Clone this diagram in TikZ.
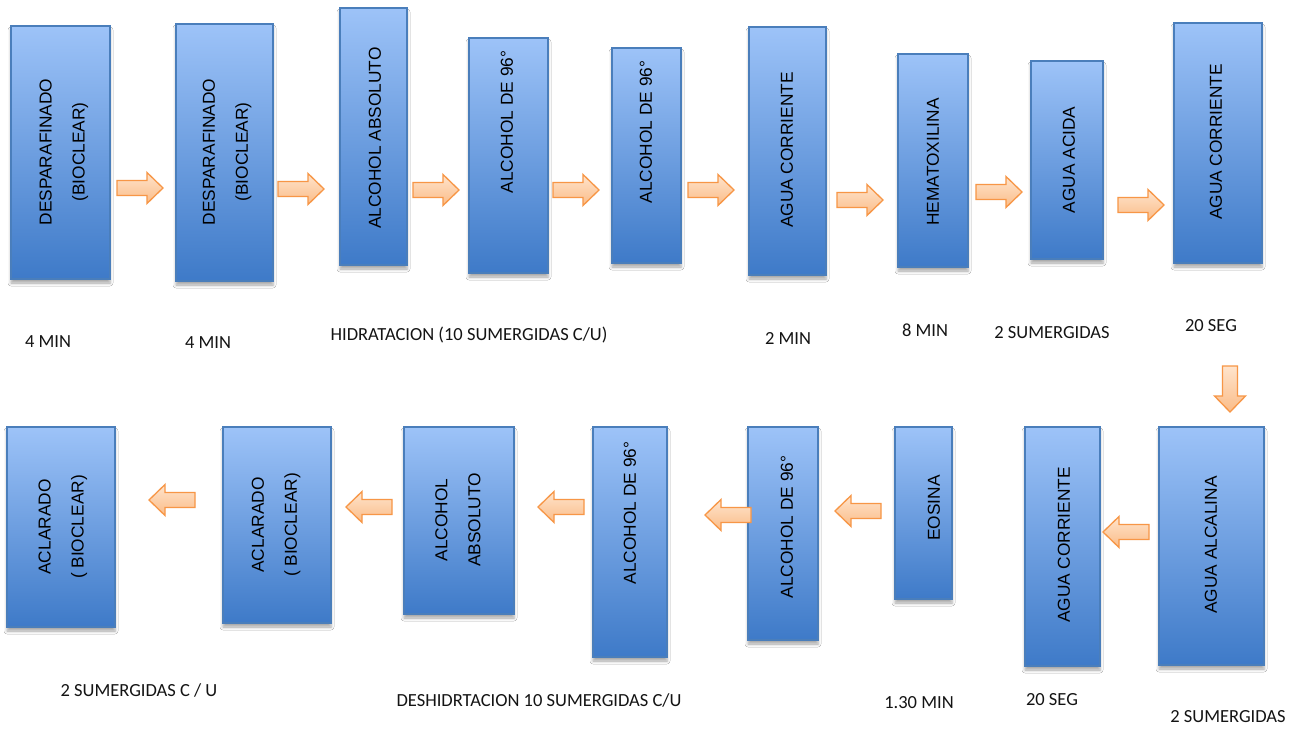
\documentclass[tikz,border=0pt]{standalone}
\usepackage{fontspec}
\setmainfont{Liberation Sans}
\newfontfamily\calfont{Carlito}
\usetikzlibrary{shadows.blur}

\definecolor{boxtop}{RGB}{157,195,248}
\definecolor{boxbot}{RGB}{62,122,200}
\definecolor{boxline}{RGB}{74,126,187}
\definecolor{arrtop}{RGB}{255,228,204}
\definecolor{arrbot}{RGB}{250,188,136}
\definecolor{arrline}{RGB}{247,150,70}

\tikzset{
  box/.style={draw=boxline, line width=1.4pt, top color=boxtop, bottom color=boxbot,
    inner sep=0pt,
    blur shadow={shadow xshift=0pt, shadow yshift=-4pt, shadow blur radius=3pt, shadow opacity=35}},
  boxtext/.style={rotate=90, align=center, font=\fontsize{17.3}{33}\selectfont, text=black, inner sep=0pt},
  lbl/.style={font=\calfont\fontsize{18.5}{20}\selectfont, text=black!92, inner sep=0pt},
  blockarrow/.pic={
    \draw[draw=arrline, line width=1.3pt, top color=arrtop, bottom color=arrbot, line join=miter]
      (0,-7.5) -- (30,-7.5) -- (30,-15.5) -- (46,0) -- (30,15.5) -- (30,7.5) -- (0,7.5) -- cycle;
  }
}
\newcommand\mybox[5]{\node[box, minimum width={#3-#1}, minimum height={#4-#2}] (#5) at ({(#1+#3)/2},{(#2+#4)/2}) {};}

\begin{document}
\begin{tikzpicture}[x=1pt, y=-1pt]
\useasboundingbox[fill=white] (0,0) rectangle (1298,728);

% top row boxes
\mybox{11}{26}{110}{279}{b1}
\mybox{176}{24}{273}{281}{b2}
\mybox{340}{8}{407}{265}{b3}
\mybox{469}{38}{548}{273}{b4}
\mybox{612}{48}{681}{263}{b5}
\mybox{749}{27}{826}{275}{b6}
\mybox{898}{54}{968}{267}{b7}
\mybox{1031}{61}{1103}{259}{b8}
\mybox{1174}{23}{1262}{263}{b9}

% bottom row boxes
\mybox{1159}{427}{1264}{665}{b10}
\mybox{1025}{427}{1100}{666}{b11}
\mybox{895}{427}{952}{599}{b12}
\mybox{748}{427}{818}{640}{b13}
\mybox{593}{427}{667}{657}{b14}
\mybox{404}{427}{514}{614}{b15}
\mybox{223}{427}{331}{623}{b16}
\mybox{7}{427}{115}{627}{b17}

% box texts
\node[boxtext] (t1) at (64,152) {DESPARAFINADO\\(BIOCLEAR)};
\node[boxtext] (t2) at (227,152) {DESPARAFINADO\\(BIOCLEAR)};
\node[boxtext] (t3) at (375,138) {ALCOHOL ABSOLUTO};
\node[boxtext] (t4) at (507,122) {ALCOHOL DE 96°};
\node[boxtext] (t5) at (646,132) {ALCOHOL DE 96°};
\node[boxtext] (t6) at (787,150) {AGUA CORRIENTE};
\node[boxtext] (t7) at (933,162) {HEMATOXILINA};
\node[boxtext] (t8) at (1069,160) {AGUA ACIDA};
\node[boxtext] (t9) at (1216,142) {AGUA CORRIENTE};

\node[boxtext] (t10) at (1211,545) {AGUA ALCALINA};
\node[boxtext] (t11) at (1064,545) {AGUA CORRIENTE};
\node[boxtext] (t12) at (934,508) {EOSINA};
\node[boxtext] (t13) at (787,527) {ALCOHOL DE 96°};
\node[boxtext] (t14) at (630,513) {ALCOHOL DE 96°};
\node[boxtext] (t15) at (458,520) {ALCOHOL\\ABSOLUTO};
\node[boxtext] (t16) at (276,525) {ACLARADO\\( BIOCLEAR)};
\node[boxtext] (t17) at (63,527) {ACLARADO\\( BIOCLEAR)};

% arrows top row
\pic (a1) at (117,188) {blockarrow};
\pic (a2) at (278,189) {blockarrow};
\pic (a3) at (413,190) {blockarrow};
\pic (a4) at (553,190) {blockarrow};
\pic (a5) at (688,190) {blockarrow};
\pic (a6) at (837,200) {blockarrow};
\pic (a7) at (976,192) {blockarrow};
\pic (a8) at (1118,205) {blockarrow};
% down arrow
\pic[rotate=-90] (a9) at (1230,366) {blockarrow};
% arrows bottom row
\pic[rotate=180] (a10) at (1149,532) {blockarrow};
\pic[rotate=180] (a12) at (881,511) {blockarrow};
\pic[rotate=180] (a13) at (751,515) {blockarrow};
\pic[rotate=180] (a14) at (584,507) {blockarrow};
\pic[rotate=180] (a15) at (392,507) {blockarrow};
\pic[rotate=180] (a16) at (195,500) {blockarrow};

% labels
\node[lbl] (l1) at (48,342) {4 MIN};
\node[lbl] (l2) at (208,343) {4 MIN};
\node[lbl] (l3) at (469,335) {HIDRATACION (10 SUMERGIDAS C/U)};
\node[lbl] (l4) at (788,338) {2 MIN};
\node[lbl] (l5) at (925,330) {8 MIN};
\node[lbl] (l6) at (1052,333) {2 SUMERGIDAS};
\node[lbl] (l7) at (1211,326) {20 SEG};
\node[lbl] (l8) at (139,690) {2 SUMERGIDAS C / U};
\node[lbl] (l9) at (539,700) {DESHIDRTACION 10 SUMERGIDAS C/U};
\node[lbl] (l10) at (919,703) {1.30 MIN};
\node[lbl] (l11) at (1052,700) {20 SEG};
\node[lbl] (l12) at (1228,717) {2 SUMERGIDAS};
\end{tikzpicture}
\end{document}
